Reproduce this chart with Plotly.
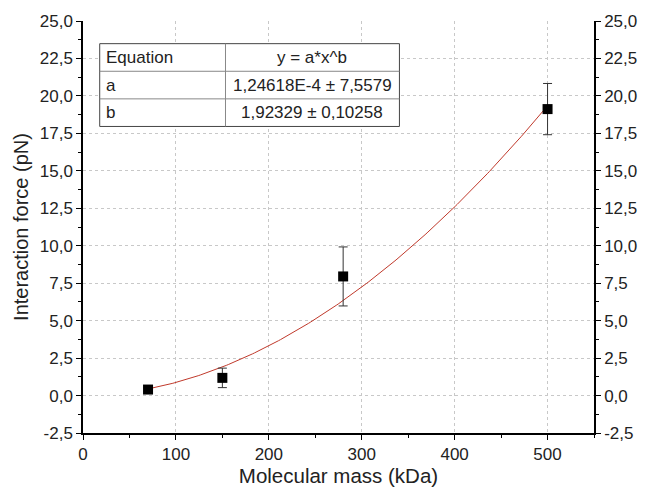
import numpy as np
import plotly.graph_objects as go

# ---- data ----
mass_kda = [70, 150, 280, 500]
force_pn = [0.40, 1.18, 7.95, 19.12]
force_err = [0.12, 0.65, 1.97, 1.71]

fit_a = 1.24618e-4
fit_b = 1.92329
fit_x = np.linspace(70, 500, 200)
fit_y = fit_a * fit_x ** fit_b

table_rows = [["Equation", "y = a*x^b"],
              ["a", "1,24618E-4 ± 7,5579"],
              ["b", "1,92329 ± 0,10258"]]

x_ticks = [0, 100, 200, 300, 400, 500]
y_tickvals = [-2.5, 0, 2.5, 5, 7.5, 10, 12.5, 15, 17.5, 20, 22.5, 25]
y_ticktext = ["-2,5", "0,0", "2,5", "5,0", "7,5", "10,0", "12,5", "15,0",
              "17,5", "20,0", "22,5", "25,0"]
y_range = [-2.5, 25]
x_range = [0, 550]

FONT = "Liberation Sans, Arial, sans-serif"

# plot area in pixels
W, H = 649, 495
L, R, T, B = 83, 603, 19, 437


def px(xp):
    return (xp - L) / (R - L)


def py(yp):
    return (B - yp) / (B - T)


fig = go.Figure()
fig.add_trace(go.Scatter(x=fit_x, y=fit_y, mode="lines",
                         line=dict(color="#c0392b", width=1), showlegend=False,
                         hoverinfo="skip"))
fig.add_trace(go.Scatter(x=mass_kda, y=force_pn, mode="markers",
                         marker=dict(symbol="square", size=10, color="black"),
                         error_y=dict(type="data", array=force_err, visible=True,
                                      color="#333333", thickness=1, width=4.5),
                         showlegend=False))
fig.add_trace(go.Scatter(x=[None], y=[None], yaxis="y2", showlegend=False))

tickfont = dict(family=FONT, size=17, color="#222")
grid = dict(showgrid=True, gridcolor="#c8c8c8", griddash="dot", gridwidth=1)

yaxis_common = dict(range=y_range, tickvals=y_tickvals, ticktext=y_ticktext,
                    ticks="outside", ticklen=5, tickcolor="black", showline=True,
                    linecolor="black", linewidth=1.5, zeroline=False, tickfont=tickfont,
                    minor=dict(ticks="outside", dtick=1.25, tick0=0, ticklen=3,
                               tickcolor="black"))

fig.update_layout(
    width=W, height=H,
    margin=dict(l=L, r=W - R, t=T, b=H - B),
    paper_bgcolor="white", plot_bgcolor="white",
    font=dict(family=FONT, color="#222"),
    xaxis=dict(range=x_range, tickvals=x_ticks, ticks="outside", ticklen=5,
               tickcolor="black", showline=True, linecolor="black", linewidth=1.5,
               zeroline=False, tickfont=tickfont,
               minor=dict(ticks="outside", dtick=50, ticklen=3, tickcolor="black"),
               title=dict(text="Molecular mass (kDa)", font=dict(family=FONT, size=20.5),
                          standoff=4),
               **grid),
    yaxis=dict(title=dict(text="Interaction force (pN)", font=dict(family=FONT, size=20),
                          standoff=6),
               **yaxis_common, **grid),
    yaxis2=dict(overlaying="y", side="right", anchor="x", showgrid=False,
                **yaxis_common),
)

# ---- parameter table ----
tx0, tx1, tx2 = 100, 228, 405
row_y = [42, 70, 98, 126]
fig.add_shape(type="rect", xref="paper", yref="paper",
              x0=px(tx0), x1=px(tx2), y0=py(row_y[3]), y1=py(row_y[0]),
              fillcolor="white", line=dict(color="#444", width=1), layer="above")
fig.add_shape(type="line", xref="paper", yref="paper",
              x0=px(tx1), x1=px(tx1), y0=py(row_y[3]), y1=py(row_y[0]),
              line=dict(color="#888", width=1), layer="above")
for ry in row_y[1:3]:
    fig.add_shape(type="line", xref="paper", yref="paper",
                  x0=px(tx0), x1=px(tx2), y0=py(ry), y1=py(ry),
                  line=dict(color="#888", width=1), layer="above")
for i, (c1, c2) in enumerate(table_rows):
    yc = (row_y[i] + row_y[i + 1]) / 2
    fig.add_annotation(xref="paper", yref="paper", x=px(tx0 + 4), y=py(yc),
                       text=c1, showarrow=False, xanchor="left", yanchor="middle",
                       font=dict(family=FONT, size=17, color="#222"))
    fig.add_annotation(xref="paper", yref="paper", x=px((tx1 + tx2) / 2), y=py(yc),
                       text=c2, showarrow=False, xanchor="center", yanchor="middle",
                       font=dict(family=FONT, size=17, color="#222"))

fig.write_html("out.html")
